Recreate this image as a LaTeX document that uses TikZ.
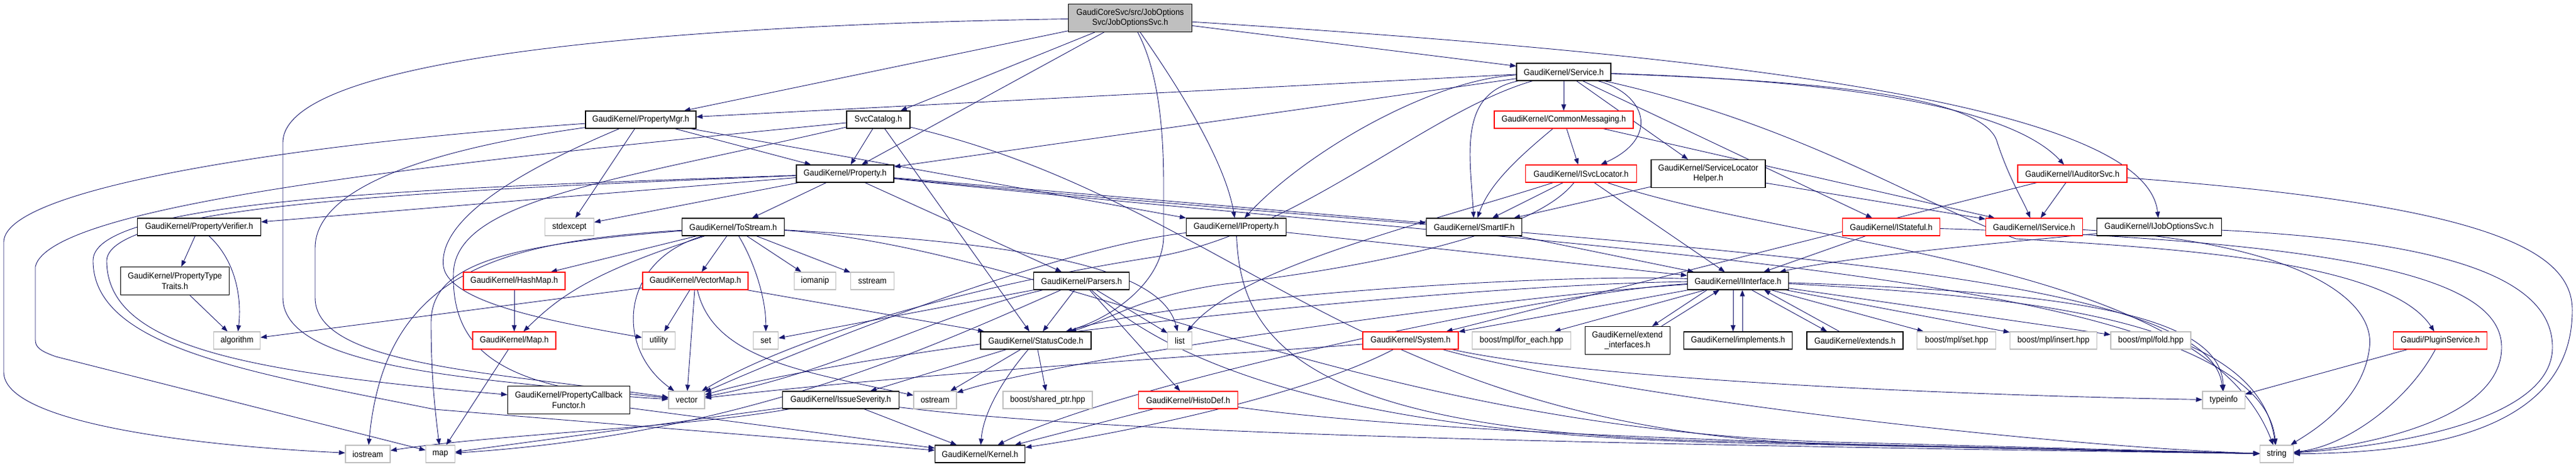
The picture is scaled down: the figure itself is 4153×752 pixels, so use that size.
\documentclass[tikz,border=0pt]{standalone}
\usepackage{fontspec}
\setmainfont{Liberation Sans}[FakeStretch=0.92]
\usetikzlibrary{arrows.meta,backgrounds}
\definecolor{edgecol}{HTML}{191970}
\definecolor{graybd}{HTML}{BFBFBF}
\begin{document}
\begin{tikzpicture}[x=1pt,y=-1pt,
  nd/.style={line width=1.1pt, minimum height=28pt, inner sep=1pt,
    font=\fontsize{14}{16.5}\selectfont, align=center, fill=white},
  kb/.style={nd, draw=black},
  rb/.style={nd, draw=red},
  gb/.style={nd, draw=graybd},
  tl/.style={minimum height=45pt},
  e/.style={draw=edgecol, line width=0.9pt, -{Triangle[length=10pt,width=7.5pt]}}]
\useasboundingbox (0,0) rectangle (4153,752);

% ---------------- nodes
\node[kb,tl,fill=graybd,minimum width=199pt] (r) at (1822,29) {GaudiCoreSvc/src/JobOptions\\Svc/JobOptionsSvc.h};
\node[kb,minimum width=178pt] (pmgr) at (1033,193) {GaudiKernel/PropertyMgr.h};
\node[kb,minimum width=102pt] (svccat) at (1416,193) {SvcCatalog.h};
\node[kb,minimum width=157pt] (prop) at (1362.5,280) {GaudiKernel/Property.h};
\node[gb,minimum width=79pt] (stdexcept) at (918,366) {stdexcept};
\node[kb,minimum width=165pt] (tostream) at (1182,366) {GaudiKernel/ToStream.h};
\node[kb,minimum width=199pt] (pverifier) at (321,366) {GaudiKernel/PropertyVerifier.h};
\node[kb,tl,minimum width=175pt] (ptraits) at (282,453) {GaudiKernel/PropertyType\\Traits.h};
\node[gb,minimum width=75pt] (algorithm) at (382,549) {algorithm};
\node[gb,minimum width=72pt] (iostream) at (593,732) {iostream};
\node[gb,minimum width=47pt] (map) at (710,732) {map};
\node[rb,minimum width=164pt] (hashmap) at (829,453) {GaudiKernel/HashMap.h};
\node[rb,minimum width=134pt] (maph) at (829,549) {GaudiKernel/Map.h};
\node[rb,minimum width=170pt] (vectormap) at (1121,453) {GaudiKernel/VectorMap.h};
\node[gb,minimum width=53pt] (utility) at (1062,549) {utility};
\node[gb,minimum width=40pt] (set) at (1234.6,549) {set};
\node[gb,minimum width=67pt] (iomanip) at (1314,453) {iomanip};
\node[gb,minimum width=70pt] (sstream) at (1406.5,453) {sstream};
\node[gb,minimum width=58pt] (vector) at (1107,645) {vector};
\node[kb,tl,minimum width=197pt] (pcf) at (917,645) {GaudiKernel/PropertyCallback\\Functor.h};
\node[kb,minimum width=188pt] (issuesev) at (1355.5,645) {GaudiKernel/IssueSeverity.h};
\node[kb,minimum width=154pt] (parsers) at (1743.6,453) {GaudiKernel/Parsers.h};
\node[kb,minimum width=178pt] (statuscode) at (1670,549) {GaudiKernel/StatusCode.h};
\node[gb,minimum width=39pt] (list) at (1902,549) {list};
\node[gb,minimum width=69pt] (ostream) at (1507.5,645) {ostream};
\node[gb,minimum width=144pt] (sharedptr) at (1689,645) {boost/shared\_ptr.hpp};
\node[rb,minimum width=160pt] (histodef) at (1915.5,645) {GaudiKernel/HistoDef.h};
\node[kb,minimum width=145pt] (kernel) at (1580,732) {GaudiKernel/Kernel.h};
\node[kb,minimum width=161pt] (iprop) at (1993,366) {GaudiKernel/IProperty.h};
\node[kb,minimum width=152pt] (service) at (2521,116) {GaudiKernel/Service.h};
\node[rb,minimum width=224pt] (commonmsg) at (2521,193) {GaudiKernel/CommonMessaging.h};
\node[rb,minimum width=179pt] (isvcloc) at (2549,280) {GaudiKernel/ISvcLocator.h};
\node[kb,tl,minimum width=184pt] (slh) at (2754,280) {GaudiKernel/ServiceLocator\\Helper.h};
\node[kb,minimum width=154pt] (smartif) at (2376.7,366) {GaudiKernel/SmartIF.h};
\node[rb,minimum width=176pt] (iauditor) at (3341,280) {GaudiKernel/IAuditorSvc.h};
\node[rb,minimum width=157pt] (istateful) at (3049,366) {GaudiKernel/IStateful.h};
\node[rb,minimum width=156pt] (iservice) at (3279.4,366) {GaudiKernel/IService.h};
\node[kb,minimum width=201pt] (ijos) at (3481,366) {GaudiKernel/IJobOptionsSvc.h};
\node[kb,minimum width=163pt] (iinterface) at (2802,453) {GaudiKernel/IInterface.h};
\node[rb,minimum width=154pt] (system) at (2274,549) {GaudiKernel/System.h};
\node[gb,minimum width=159pt] (foreach) at (2453,549) {boost/mpl/for\_each.hpp};
\node[kb,tl,minimum width=137pt] (extendif) at (2623.6,549) {GaudiKernel/extend\\\_interfaces.h};
\node[kb,minimum width=174.5pt] (implements) at (2802,549) {GaudiKernel/implements.h};
\node[kb,minimum width=155pt] (extends) at (2990.5,549) {GaudiKernel/extends.h};
\node[gb,minimum width=127pt] (mplset) at (3154.4,549) {boost/mpl/set.hpp};
\node[gb,minimum width=140pt] (mplinsert) at (3310.5,549) {boost/mpl/insert.hpp};
\node[gb,minimum width=129pt] (mplfold) at (3467.5,549) {boost/mpl/fold.hpp};
\node[gb,minimum width=68pt] (typeinfo) at (3585,645) {typeinfo};
\node[gb,minimum width=54pt] (string) at (3670.4,732) {string};
\node[rb,minimum width=151pt] (pluginsvc) at (3934,549) {Gaudi/PluginService.h};

% ---------------- edges
\begin{scope}[on background layer]
\fill[white] (0,0) rectangle (4153,752);
% root
\draw[e] (r) -- (pmgr);
\draw[e] (r) -- (svccat);
\draw[e] (r) -- (prop);
\draw[e] (r) .. controls (1870,120) and (1876,220) .. (1876,300) -- (1876,380) .. controls (1876,450) and (1800,510) .. (statuscode);
\draw[e] (r) .. controls (1900,140) and (1975,260) .. (iprop);
\draw[e] (r) -- (service);
\draw[e] (r) .. controls (2800,90) and (3460,170) .. (ijos);
\draw[e] (r) .. controls (1100,40) and (456,90) .. (456,230) -- (456,480) .. controls (456,600) and (800,612) .. (vector);
% PropertyMgr
\draw[e] (pmgr) .. controls (500,230) and (8,300) .. (6,390) -- (6,600) .. controls (6,680) and (300,718) .. (iostream);
\draw[e] (pmgr) .. controls (700,240) and (508,300) .. (508,400) -- (508,480) .. controls (508,590) and (800,600) .. (vector);
\draw[e] (pmgr) .. controls (850,270) and (705,350) .. (715,430) .. controls (725,490) and (900,520) .. (utility);
\draw[e] (pmgr) -- (stdexcept);
\draw[e] (pmgr) -- (prop);
\draw[e] (pmgr) -- (iprop);
% SvcCatalog
\draw[e] (svccat) .. controls (700,263) and (80,330) .. (57,430) -- (57,548) .. controls (57,560) and (65,566) .. (90,575) -- (map);
\draw[e] (svccat) .. controls (1000,290) and (735,320) .. (731,440) .. controls (728,560) and (800,630) .. (vector);
\draw[e] (svccat) -- (prop);
\draw[e] (svccat) -- (statuscode);
\draw[e] (svccat) .. controls (2000,330) and (2200,705) .. (3000,718) -- (string);
% Property
\draw[e] (prop) -- (stdexcept);
\draw[e] (prop) -- (tostream);
\draw[e] (prop) -- (pverifier);
\draw[e] (prop) .. controls (700,307) and (176,330) .. (172,420) .. controls (172,560) and (400,600) .. (pcf);
\draw[e] (prop) .. controls (700,303) and (150,320) .. (150,420) .. controls (150,560) and (400,600) .. (700,660) -- (kernel);
\draw[e] (prop) -- (parsers);
\draw[e] (prop) -- (smartif);
\draw[e] (prop) .. controls (2600,400) and (3560,420) .. (typeinfo);
\draw[e] (prop) .. controls (2600,410) and (3640,440) .. (string);
% ToStream
\draw[e] (tostream) .. controls (800,390) and (620,440) .. (iostream);
\draw[e] (tostream) .. controls (800,395) and (695,430) .. (695,520) .. controls (695,600) and (700,650) .. (map);
\draw[e] (tostream) -- (hashmap);
\draw[e] (tostream) .. controls (950,440) and (900,480) .. (maph);
\draw[e] (tostream) -- (vectormap);
\draw[e] (tostream) .. controls (1000,420) and (990,560) .. (vector);
\draw[e] (tostream) .. controls (1215,420) and (1235,480) .. (set);
\draw[e] (tostream) -- (iomanip);
\draw[e] (tostream) -- (sstream);
\draw[e] (tostream) .. controls (1600,390) and (1870,420) .. (list);
\draw[e] (tostream) .. controls (1700,400) and (2200,700) .. (3000,714) -- (string);
% VectorMap / HashMap / Map
\draw[e] (vectormap) -- (utility);
\draw[e] (vectormap) -- (vector);
\draw[e] (vectormap) -- (algorithm);
\draw[e] (vectormap) .. controls (1150,580) and (1300,600) .. (ostream);
\draw[e] (vectormap) -- (statuscode);
\draw[e] (hashmap) -- (maph);
\draw[e] (maph) -- (map);
% PropertyVerifier
\draw[e] (pverifier) -- (ptraits);
\draw[e] (pverifier) .. controls (380,420) and (390,480) .. (algorithm);
\draw[e] (ptraits) -- (algorithm);
% Parsers
\draw[e] (parsers) -- (statuscode);
\draw[e] (parsers) -- (histodef);
\draw[e] (parsers) -- (list);
\draw[e] (parsers) -- (set);
\draw[e] (parsers) .. controls (1500,510) and (1350,600) .. (vector);
\draw[e] (parsers) .. controls (1500,560) and (1200,700) .. (map);
\draw[e] (parsers) .. controls (1860,560) and (2100,700) .. (2800,714) -- (string);
% StatusCode
\draw[e] (statuscode) -- (issuesev);
\draw[e] (statuscode) -- (ostream);
\draw[e] (statuscode) .. controls (1610,620) and (1585,670) .. (kernel);
\draw[e] (statuscode) -- (sharedptr);
% IssueSeverity, HistoDef, PCF
\draw[e] (issuesev) -- (kernel);
\draw[e] (issuesev) .. controls (1800,700) and (2500,715) .. (string);
\draw[e] (issuesev) -- (map);
\draw[e] (issuesev) .. controls (1100,690) and (800,700) .. (iostream);
\draw[e] (histodef) -- (kernel);
\draw[e] (histodef) .. controls (2300,700) and (3000,720) .. (string);
\draw[e] (pcf) -- (kernel);
% IProperty
\draw[e] (iprop) -- (iinterface);
\draw[e] (iprop) .. controls (2000,550) and (2100,700) .. (2800,712) -- (string);
\draw[e] (iprop) .. controls (1700,400) and (1300,560) .. (vector);
% Service
\draw[e] (service) -- (pmgr);
\draw[e] (service) -- (prop);
\draw[e] (service) .. controls (2300,130) and (2100,250) .. (iprop);
\draw[e] (service) .. controls (2350,150) and (2370,250) .. (smartif);
\draw[e] (service) .. controls (2300,180) and (2100,370) .. (1870,413) .. controls (1500,470) and (1250,560) .. (vector);
\draw[e] (service) -- (commonmsg);
\draw[e] (service) .. controls (2650,150) and (2680,220) .. (isvcloc);
\draw[e] (service) -- (slh);
\draw[e] (service) -- (istateful);
\draw[e] (service) .. controls (2900,130) and (3200,150) .. (3220,230) .. controls (3240,290) and (3260,320) .. (iservice);
\draw[e] (service) .. controls (2900,128) and (3230,160) .. (iauditor);
\draw[e] (service) .. controls (2900,200) and (3100,330) .. (3250,385) .. controls (3500,400) and (3850,420) .. (pluginsvc);
% CommonMessaging
\draw[e] (commonmsg) -- (isvcloc);
\draw[e] (commonmsg) .. controls (2440,260) and (2400,300) .. (smartif);
\draw[e] (commonmsg) -- (iservice);
% ISvcLocator
\draw[e] (isvcloc) -- (smartif);
\draw[e] (isvcloc) -- (iinterface);
\draw[e] (isvcloc) .. controls (2470,380) and (2200,430) .. (2000,455) .. controls (1850,470) and (1780,520) .. (statuscode);
\draw[e] (isvcloc) .. controls (2300,360) and (2000,430) .. (list);
\draw[e] (isvcloc) .. controls (2900,400) and (3550,420) .. (string);
% ServiceLocatorHelper
\draw[e] (slh) -- (smartif);
\draw[e] (slh) -- (iservice);
% SmartIF
\draw[e] (smartif) -- (iinterface);
% IAuditorSvc
\draw[e] (iauditor) -- (iservice);
\draw[e] (iauditor) -- (system);
\draw[e] (iauditor) .. controls (4000,330) and (4147,400) .. (4147,500) .. controls (4147,700) and (3900,730) .. (string);
% IStateful, IService, IJobOptionsSvc
\draw[e] (istateful) -- (iinterface);
\draw[e] (istateful) .. controls (3800,390) and (4033,450) .. (4033,560) .. controls (4033,680) and (3800,720) .. (string);
\draw[e] (iservice) .. controls (3700,390) and (3830,480) .. (3820,560) .. controls (3810,650) and (3720,700) .. (string);
\draw[e] (ijos) .. controls (3300,385) and (3000,410) .. (iinterface);
\draw[e] (ijos) .. controls (3950,390) and (4115,450) .. (4115,560) .. controls (4115,680) and (3850,720) .. (string);
% IInterface
\draw[e] (iinterface) -- (system);
\draw[e] (iinterface) -- (foreach);
\draw[e] ([xshift=-50pt]iinterface.south) -- ([xshift=40pt]extendif.north);
\draw[e] ([xshift=55pt]extendif.north) -- ([xshift=-30pt]iinterface.south);
\draw[e] ([xshift=-8pt]iinterface.south) -- ([xshift=-8pt]implements.north);
\draw[e] ([xshift=7pt]implements.north) -- ([xshift=7pt]iinterface.south);
\draw[e] ([xshift=22pt]iinterface.south) -- ([xshift=-45pt]extends.north);
\draw[e] ([xshift=-25pt]extends.north) -- ([xshift=42pt]iinterface.south);
\draw[e] (iinterface) -- (mplset);
\draw[e] (iinterface) -- (mplinsert);
\draw[e] (iinterface) -- (mplfold);
\draw[e] (iinterface) .. controls (3300,470) and (3580,500) .. (typeinfo);
\draw[e] (iinterface) .. controls (3300,480) and (3640,520) .. (string);
\draw[e] (iinterface) .. controls (2500,440) and (1900,480) .. (statuscode);
\draw[e] (iinterface) .. controls (2500,470) and (1800,620) .. (kernel);
\draw[e] (iinterface) .. controls (2400,480) and (1700,580) .. (ostream);
\draw[e] (iinterface) .. controls (2300,460) and (1400,560) .. (vector);
% System
\draw[e] (system) .. controls (2100,640) and (1800,700) .. (kernel);
\draw[e] (system) .. controls (2600,620) and (3300,640) .. (typeinfo);
\draw[e] (system) .. controls (2600,640) and (3300,720) .. (string);
\draw[e] (system) .. controls (2000,570) and (1500,600) .. (vector);
% PluginService
\draw[e] (pluginsvc) -- (typeinfo);
\draw[e] (pluginsvc) .. controls (3880,650) and (3780,720) .. (string);
\end{scope}
\end{tikzpicture}
\end{document}
